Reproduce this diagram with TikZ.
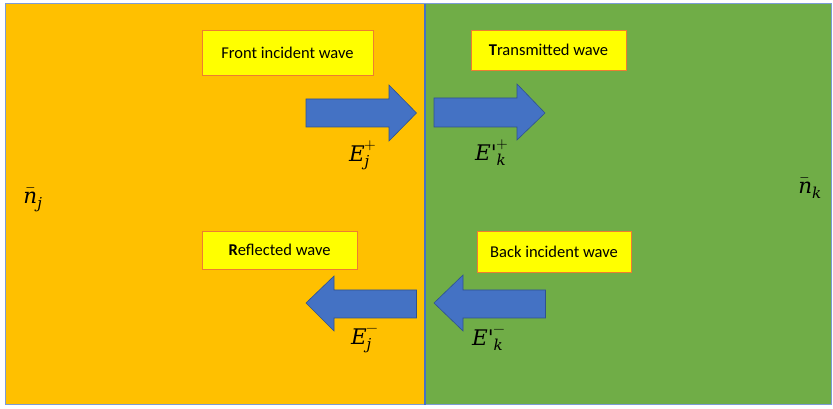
\documentclass[tikz,border=0pt]{standalone}
\usepackage{amsmath}
\usepackage{fontspec}
\usepackage{unicode-math}
\setmainfont{Carlito}
\setmathfont{Latin Modern Math}
\newfontfamily\mserif{DejaVu Serif}
\newcommand{\mvar}[1]{\text{\mserif\itshape #1}}
\definecolor{orgfill}{HTML}{FFC000}
\definecolor{grnfill}{HTML}{70AD47}
\definecolor{bluel}{HTML}{4472C4}
\definecolor{bluedk}{HTML}{2F528F}
\definecolor{ylw}{HTML}{FFFF00}
\definecolor{boxedge}{HTML}{ED7D31}
\begin{document}
\begin{tikzpicture}[x=1pt,y=1pt,
  lbl/.style={draw=boxedge, line width=0.8pt, fill=ylw, inner sep=0pt, font=\fontsize{16.5}{19}\selectfont, text=black},
  mlbl/.style={inner sep=0pt, font=\fontsize{21.5}{25}\selectfont},
  blockarrow/.style={fill=bluel, draw=bluedk, line width=0.6pt}]
\useasboundingbox (0,0) rectangle (833,409);
\fill[white] (0,0) rectangle (833,409);
% regions
\draw[fill=orgfill, draw=bluel!70, line width=1pt] (5,4) rectangle (425,405);
\draw[fill=grnfill, draw=bluel!70, line width=1pt] (425,4) rectangle (831,405);
\draw[bluel, line width=2.2pt] (425,4) -- (425,405);
% boxes
\node[lbl, minimum width=171pt, minimum height=45pt] (front) at (287.5,356.5) {Front incident wave};
\node[lbl, minimum width=155pt, minimum height=40pt] (trans) at (548.5,359) {\textbf{T}ransmitted wave};
\node[lbl, minimum width=155pt, minimum height=38pt] (refl) at (279.5,159) {\textbf{R}eflected wave};
\node[lbl, minimum width=154pt, minimum height=41pt] (back) at (554,157.5) {Back incident wave};
% block arrows
\draw[blockarrow] (306,310) -- (389,310) -- (389,324) -- (416.5,296) -- (389,268) -- (389,282) -- (306,282) -- cycle;
\draw[blockarrow] (434,311) -- (517,311) -- (517,325) -- (545,296) -- (517,269) -- (517,282) -- (434,282) -- cycle;
\draw[blockarrow] (416.5,119) -- (334,119) -- (334,133) -- (306,106) -- (334,78) -- (334,91) -- (416.5,91) -- cycle;
\draw[blockarrow] (545.5,119) -- (463,119) -- (463,134) -- (434,106) -- (463,78) -- (463,91) -- (545.5,91) -- cycle;
% math labels
\node[mlbl] (ejp) at (363,254) {$\mvar{E}^{+}_{\mvar{j}}$};
\node[mlbl] (ekp) at (492,256) {$\mvar{E'}^{+}_{\mvar{k}}$};
\node[mlbl] (ejm) at (365,68) {$\mvar{E}^{-}_{\mvar{j}}$};
\node[mlbl] (ekm) at (489,69) {$\mvar{E'}^{-}_{\mvar{k}}$};
\node[mlbl] (nj) at (33,209) {$\bar{\mvar{n}}_{\mvar{j}}$};
\node[mlbl] (nk) at (810,221) {$\bar{\mvar{n}}_{\mvar{k}}$};
\end{tikzpicture}
\end{document}
